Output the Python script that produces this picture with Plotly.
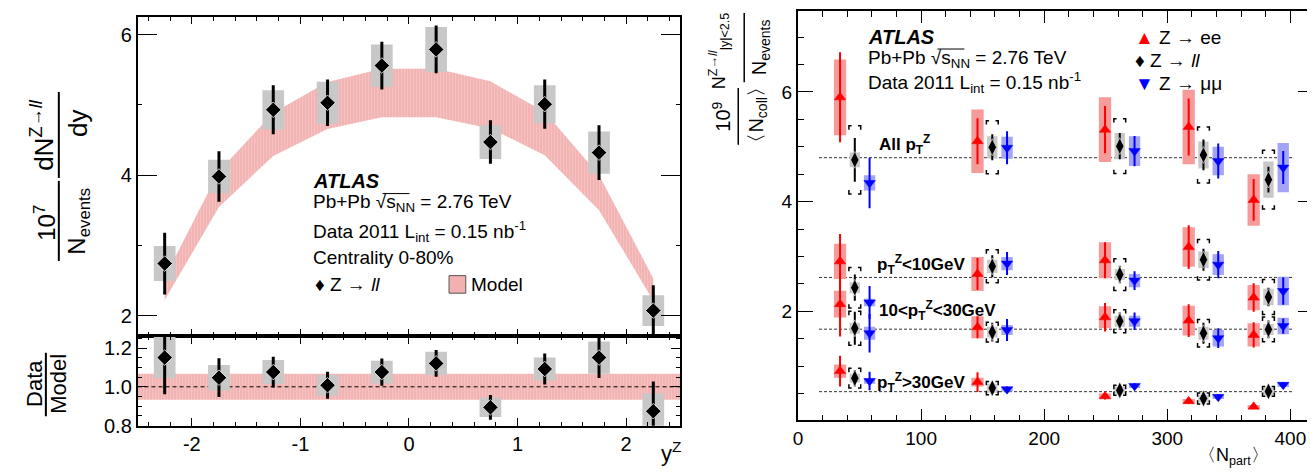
import plotly.graph_objects as go

W, H = 1315, 472
FONT = "Liberation Sans, Arial, Helvetica, sans-serif"

# ---------------- Left panel: dN/dy vs y^Z ----------------
y_centers = [-2.25, -1.75, -1.25, -0.75, -0.25, 0.25, 0.75, 1.25, 1.75, 2.25]
dndy = [2.74, 3.98, 4.93, 5.03, 5.56, 5.79, 4.47, 5.01, 4.32, 2.07]
dndy_stat = [0.44, 0.36, 0.35, 0.33, 0.34, 0.34, 0.31, 0.35, 0.39, 0.36]
dndy_sys = [0.25, 0.24, 0.28, 0.30, 0.30, 0.32, 0.24, 0.27, 0.30, 0.22]
model = [2.38, 3.80, 4.58, 4.99, 5.17, 5.17, 5.00, 4.59, 3.75, 2.37]
model_rel_unc = 0.067
ratio = [1.151, 1.047, 1.076, 1.008, 1.076, 1.121, 0.894, 1.092, 1.151, 0.874]
ratio_stat = [0.19, 0.10, 0.079, 0.07, 0.07, 0.069, 0.064, 0.08, 0.106, 0.154]
ratio_sys = [0.106, 0.065, 0.062, 0.053, 0.059, 0.06, 0.05, 0.06, 0.083, 0.092]
y_range = [-2.5, 2.5]
y_ticks = [-2, -1, 0, 1, 2]
y_ticktext = ["-2", "-1", "0", "1", "2"]

# ---------------- Right panel: yield vs <Npart> ----------------
npart = [46.1, 157.8, 261.4, 329.4, 382.2]
groups = ["all", "lo", "mid", "hi"]
group_ref = [4.80, 2.617, 1.674, 0.535]
group_labels = ["<b>All p<sub>T</sub><sup>Z</sup></b>",
                "<b>p<sub>T</sub><sup>Z</sup>&lt;10GeV</b>",
                "<b>10&lt;p<sub>T</sub><sup>Z</sup>&lt;30GeV</b>",
                "<b>p<sub>T</sub><sup>Z</sup>&gt;30GeV</b>"]

ee_val = {"all": [5.90, 5.10, 5.31, 5.36, 4.03], "lo": [2.91, 2.68, 2.93, 3.17, 2.25],
          "mid": [2.13, 1.71, 1.89, 1.83, 1.57], "hi": [0.91, 0.71, 0.45, 0.36, 0.26]}
ee_stat = {"all": [0.82, 0.42, 0.43, 0.52, 0.38], "lo": [0.50, 0.29, 0.33, 0.40, 0.26],
           "mid": [0.59, 0.20, 0.26, 0.30, 0.23], "hi": [0.28, 0.18, 0.06, 0.05, 0.04]}
ee_sys = {"all": [0.69, 0.58, 0.59, 0.68, 0.47], "lo": [0.32, 0.31, 0.33, 0.36, 0.23],
          "mid": [0.245, 0.20, 0.20, 0.27, 0.21], "hi": [0.12, 0.08, 0.05, 0.04, 0.03]}

ll_val = {"all": [4.76, 4.99, 5.01, 4.85, 4.40], "lo": [2.43, 2.82, 2.67, 2.94, 2.26],
          "mid": [1.69, 1.62, 1.82, 1.60, 1.67], "hi": [0.78, 0.60, 0.56, 0.41, 0.54]}
ll_stat = {"all": [0.40, 0.235, 0.24, 0.28, 0.235], "lo": [0.24, 0.20, 0.16, 0.20, 0.17],
           "mid": [0.30, 0.17, 0.16, 0.19, 0.16], "hi": [0.15, 0.10, 0.08, 0.08, 0.08]}
ll_sys = {"all": [0.135, 0.20, 0.24, 0.245, 0.33], "lo": [0.10, 0.12, 0.10, 0.15, 0.15],
          "mid": [0.10, 0.10, 0.10, 0.12, 0.10], "hi": [0.08, 0.08, 0.07, 0.07, 0.07]}
ll_corr = {"all": [0.62, 0.485, 0.50, 0.51, 0.535], "lo": [0.37, 0.30, 0.29, 0.37, 0.32],
           "mid": [0.31, 0.18, 0.21, 0.25, 0.225], "hi": [0.18, 0.12, 0.09, 0.10, 0.09]}

mm_val = {"all": [4.34, 4.98, 4.92, 4.74, 4.62], "lo": [2.16, 2.87, 2.56, 2.85, 2.37],
          "mid": [1.60, 1.66, 1.82, 1.51, 1.73], "hi": [0.73, 0.58, 0.64, 0.44, 0.66]}
mm_stat = {"all": [0.46, 0.30, 0.275, 0.32, 0.30], "lo": [0.30, 0.21, 0.17, 0.25, 0.25],
           "mid": [0.35, 0.20, 0.16, 0.18, 0.14], "hi": [0.17, 0.05, 0.05, 0.05, 0.05]}
mm_sys = {"all": [0.14, 0.20, 0.27, 0.26, 0.45], "lo": [0.07, 0.12, 0.12, 0.19, 0.26],
          "mid": [0.12, 0.09, 0.10, 0.15, 0.15], "hi": [0.05, 0.04, 0.04, 0.04, 0.04]}
channel_shift = 12.0

BAND_PATTERN = dict(shape="|", fgcolor="#e88686", bgcolor="#f7c6c6", size=3, solidity=0.45)


# ---------------- helpers ----------------
def px_x(x):
    return x / W


def px_y(y):
    return 1 - y / H


def box_trace(xs, vals, errs, hw, color, xa, ya):
    X, Y = [], []
    for x, v, e in zip(xs, vals, errs):
        X += [x - hw, x + hw, x + hw, x - hw, x - hw, None]
        Y += [v - e, v - e, v + e, v + e, v - e, None]
    return go.Scatter(x=X, y=Y, mode="lines", fill="toself", fillcolor=color,
                      line=dict(width=0, color=color), xaxis=xa, yaxis=ya,
                      hoverinfo="skip", showlegend=False)


def bracket_trace(xs, vals, errs, hw, tx, ty, xa, ya):
    X, Y = [], []
    for x, v, e in zip(xs, vals, errs):
        top, bot = v + e, v - e
        X += [x - hw + tx, x - hw, x - hw, None, x + hw - tx, x + hw, x + hw, None]
        Y += [top, top, top - ty, None, top, top, top - ty, None]
        X += [x - hw + tx, x - hw, x - hw, None, x + hw - tx, x + hw, x + hw, None]
        Y += [bot, bot, bot + ty, None, bot, bot, bot + ty, None]
    return go.Scatter(x=X, y=Y, mode="lines", line=dict(color="black", width=1.5),
                      xaxis=xa, yaxis=ya, hoverinfo="skip", showlegend=False)


def point_trace(xs, vals, stat, symbol, size, color, thick, xa, ya, outline="white", ow=1):
    return go.Scatter(x=xs, y=vals, mode="markers",
                      marker=dict(symbol=symbol, size=size, color=color,
                                  line=dict(color=outline, width=ow)),
                      error_y=dict(type="data", array=stat, thickness=thick, width=0, color=color),
                      xaxis=xa, yaxis=ya, showlegend=False, cliponaxis=True)


fig = go.Figure()

# ----- left upper: model band -----
band_hi = [m * (1 + model_rel_unc) for m in model]
band_lo = [m * (1 - model_rel_unc) for m in model]
fig.add_trace(go.Scatter(x=y_centers + y_centers[::-1], y=band_hi + band_lo[::-1],
                         mode="lines", fill="toself", fillcolor="#f2b0b0",
                         fillpattern=BAND_PATTERN,
                         line=dict(width=0, color="#f2b0b0"), xaxis="x", yaxis="y",
                         hoverinfo="skip", showlegend=False))
fig.add_trace(box_trace(y_centers, dndy, dndy_sys, 0.1, "#c8c8c8", "x", "y"))
fig.add_trace(point_trace(y_centers, dndy, dndy_stat, "diamond", 12, "black", 3, "x", "y", ow=0.8))

# ----- left lower: ratio -----
fig.add_trace(go.Scatter(x=[y_range[0], y_range[1], y_range[1], y_range[0], y_range[0]],
                         y=[1 - model_rel_unc, 1 - model_rel_unc, 1 + model_rel_unc,
                            1 + model_rel_unc, 1 - model_rel_unc],
                         mode="lines", fill="toself", fillcolor="#f2b0b0",
                         fillpattern=BAND_PATTERN,
                         line=dict(width=0, color="#f2b0b0"), xaxis="x2", yaxis="y2",
                         hoverinfo="skip", showlegend=False))
fig.add_trace(go.Scatter(x=y_range, y=[1, 1], mode="lines",
                         line=dict(color="black", width=1, dash="4px,3px"),
                         xaxis="x2", yaxis="y2", hoverinfo="skip", showlegend=False))
fig.add_trace(box_trace(y_centers, ratio, ratio_sys, 0.1, "#c8c8c8", "x2", "y2"))
fig.add_trace(point_trace(y_centers, ratio, ratio_stat, "diamond", 12, "black", 3, "x2", "y2", ow=0.8))

# ----- right panel -----
x_ee = [n - channel_shift for n in npart]
x_mm = [n + channel_shift for n in npart]
for g, ref in zip(groups, group_ref):
    fig.add_trace(go.Scatter(x=[17, 403], y=[ref, ref], mode="lines",
                             line=dict(color="#333333", width=1, dash="3px,2px"),
                             xaxis="x3", yaxis="y3", hoverinfo="skip", showlegend=False))
for g in groups:
    fig.add_trace(box_trace(x_ee, ee_val[g], ee_sys[g], 5, "#f79a9a", "x3", "y3"))
    fig.add_trace(box_trace(npart, ll_val[g], ll_sys[g], 4.2, "#c8c8c8", "x3", "y3"))
    fig.add_trace(box_trace(x_mm, mm_val[g], mm_sys[g], 4.6, "#a4a4f6", "x3", "y3"))
for g in groups:
    fig.add_trace(bracket_trace(npart, ll_val[g], ll_corr[g], 4.8, 2.2, 0.07, "x3", "y3"))
for g in groups:
    fig.add_trace(point_trace(x_ee, ee_val[g], ee_stat[g], "triangle-up", 10, "red", 2, "x3", "y3", outline="red", ow=0.5))
    fig.add_trace(point_trace(npart, ll_val[g], ll_stat[g], "diamond-tall", 12, "black", 2, "x3", "y3", ow=0.6))
    fig.add_trace(point_trace(x_mm, mm_val[g], mm_stat[g], "triangle-down", 10, "blue", 2, "x3", "y3", outline="blue", ow=0.5))

# ---------------- axes ----------------
tickfont = dict(family=FONT, size=20, color="black")
common = dict(showline=True, linecolor="black", linewidth=1.5, mirror="ticks", ticks="inside",
              showgrid=False, zeroline=False, tickcolor="black", tickwidth=1.2, tickfont=tickfont)
L_DOM = [px_x(125), px_x(670)]
R_DOM = [px_x(787.7), px_x(1305.7)]

fig.update_layout(
    width=W, height=H, margin=dict(l=0, r=0, t=0, b=0),
    paper_bgcolor="white", plot_bgcolor="white", showlegend=False,
    font=dict(family=FONT, color="black"),
    xaxis=dict(common, domain=L_DOM, anchor="y", range=y_range, tickmode="array",
               tickvals=y_ticks, ticktext=y_ticktext, ticklen=7, showticklabels=False,
               minor=dict(dtick=0.2, tick0=0, ticklen=4, ticks="inside", tickcolor="black")),
    yaxis=dict(common, domain=[px_y(335.7), px_y(9.7)], anchor="x", range=[1.71, 6.245],
               dtick=2, tick0=0, ticklen=20,
               minor=dict(dtick=1, tick0=0, ticklen=5, ticks="inside", tickcolor="black")),
    xaxis2=dict(common, domain=L_DOM, anchor="y2", range=y_range, tickmode="array",
                tickvals=y_ticks, ticktext=y_ticktext, ticklen=8,
                minor=dict(dtick=0.2, tick0=0, ticklen=4, ticks="inside", tickcolor="black")),
    yaxis2=dict(common, domain=[px_y(427.7), px_y(335.7)], anchor="x2", range=[0.799, 1.263],
                dtick=0.2, tick0=0, tickformat=".1f", ticklen=10,
                minor=dict(dtick=0.05, tick0=0, ticklen=5, ticks="inside", tickcolor="black")),
    xaxis3=dict(common, domain=R_DOM, anchor="y3", range=[-0.3, 419], dtick=100, tick0=0, ticklen=12,
                tickfont=dict(family=FONT, size=19, color="black"),
                minor=dict(dtick=20, tick0=0, ticklen=6, ticks="inside", tickcolor="black")),
    yaxis3=dict(common, domain=[px_y(422.3), px_y(3.3)], anchor="x3", range=[0.01, 7.47],
                dtick=2, tick0=0, ticklen=16, tickfont=dict(family=FONT, size=19, color="black"),
                minor=dict(dtick=0.5, tick0=0, ticklen=7, ticks="inside", tickcolor="black")),
)

# ---------------- text ----------------
ann = []
shapes = []


def text(x, y, s, size=19, xanchor="left", angle=0, color="black"):
    ann.append(dict(x=px_x(x), y=px_y(y), xref="paper", yref="paper", text=s, showarrow=False,
                    xanchor=xanchor, yanchor="middle", textangle=angle, borderpad=0,
                    font=dict(family=FONT, size=size, color=color)))


def hline(x0, x1, y, width=1.5):
    shapes.append(dict(type="line", xref="paper", yref="paper", x0=px_x(x0), x1=px_x(x1),
                       y0=px_y(y), y1=px_y(y), line=dict(color="black", width=width)))


def vline(x, y0, y1, width=1.5):
    shapes.append(dict(type="line", xref="paper", yref="paper", x0=px_x(x), x1=px_x(x),
                       y0=px_y(y0), y1=px_y(y1), line=dict(color="black", width=width)))


# left panel labels
text(300, 177, "<b><i>ATLAS</i></b>", 20)
text(300, 200, "Pb+Pb √s<sub>NN</sub> = 2.76 TeV", 19)
hline(371, 398, 190, 1)
text(300, 228.7, "Data 2011 L<sub>int</sub> = 0.15 nb<sup>-1</sup>", 19)
text(300, 255, "Centrality 0-80%", 19)
text(302, 283.3, "♦ Z → <i>ll</i>", 19)
shapes.append(dict(type="rect", xref="paper", yref="paper", x0=px_x(437.7), x1=px_x(454.5),
                   y0=px_y(292), y1=px_y(274), fillcolor="#f2b0b0",
                   line=dict(color="#555555", width=1)))
text(458.7, 283.3, "Model", 19)

# left y titles
text(30, 130, "dN<sup>Z→<i>ll</i></sup>", 26, "center", -90)
text(66, 118, "dy", 26, "center", -90)
vline(46, 86, 174, 2)
text(32, 220, "10<sup>7</sup>", 24, "center", -90)
text(66, 218, "N<sub>events</sub>", 24, "center", -90)
vline(46, 177, 259, 2)
text(21, 384, "Data", 22, "center", -90)
text(45, 385, "Model", 22, "center", -90)
vline(33, 353, 418, 2)
text(672, 455, "y<sup>Z</sup>", 22, "right")

# right panel labels
text(857, 30, "<b><i>ATLAS</i></b>", 20)
text(857, 52, "Pb+Pb √s<sub>NN</sub> = 2.76 TeV", 19)
hline(928, 955, 42, 1)
text(857, 76, "Data 2011 L<sub>int</sub> = 0.15 nb<sup>-1</sup>", 19)
text(1125, 30, "<span style='color:red'>▲</span> Z → ee", 19)
text(1125, 53.3, "♦ Z → <i>ll</i>", 19)
text(1125, 77.3, "<span style='color:blue'>▼</span> Z → μμ", 19)
for lab, ypos, xpos in zip(group_labels, [140, 263, 310, 383], [868, 866, 868, 866]):
    text(xpos, ypos, lab, 17)

text(709, 44, "N<sup>Z→<i>ll</i></sup><sub>|y|&lt;2.5</sub>", 18, "center", -90)
text(750, 40, "N<sub>events</sub>", 20, "center", -90)
vline(734, 5, 76, 1.5)
text(711, 111, "10<sup>9</sup>", 20, "center", -90)
text(747, 110, "〈N<sub>coll</sub>〉", 20, "center", -90)
vline(728, 82, 140, 1.5)
text(1262, 459, "〈N<sub>part</sub>〉", 18, "right")

fig.update_layout(annotations=ann, shapes=shapes)
fig.write_html("out.html")
